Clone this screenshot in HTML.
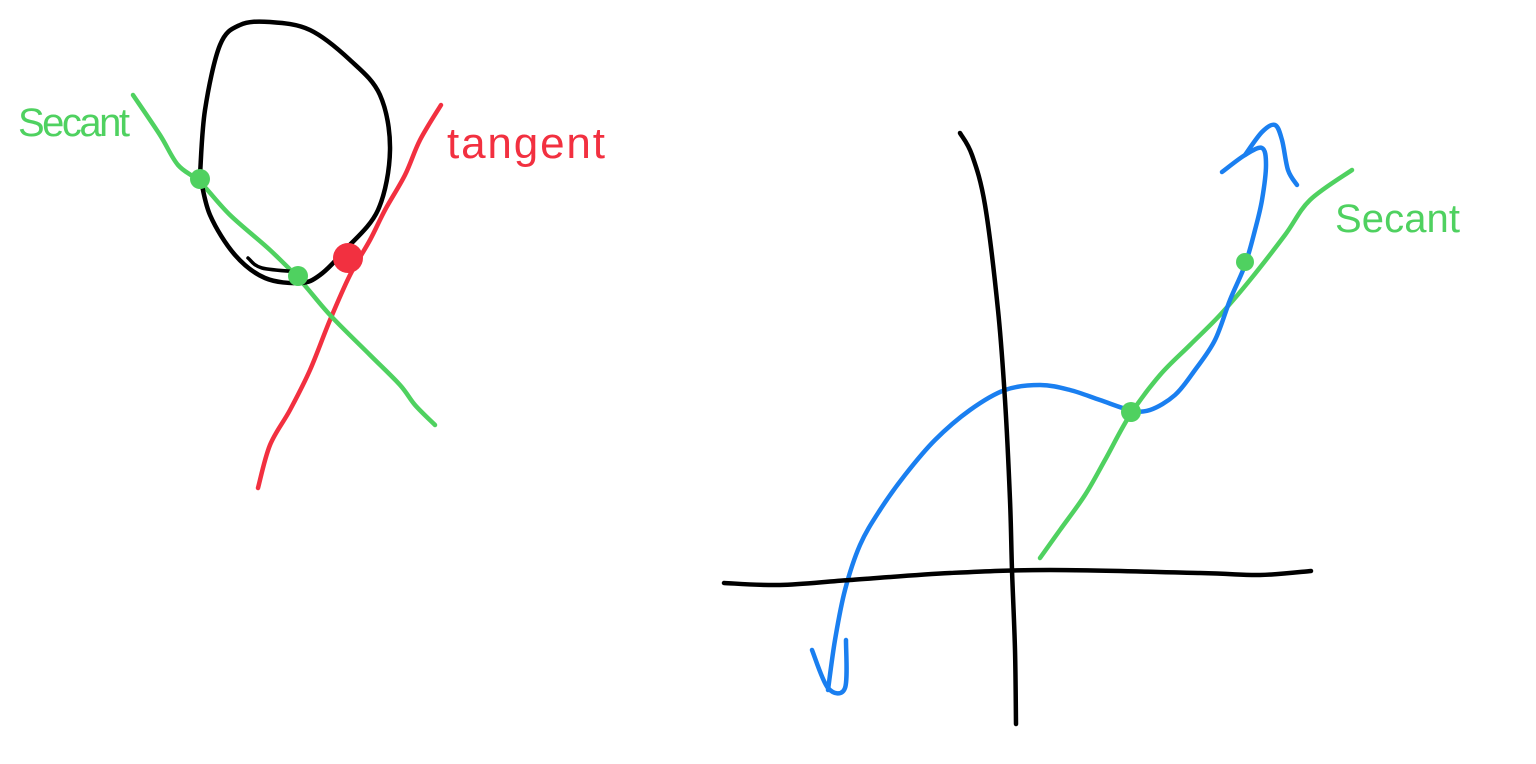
<!DOCTYPE html>
<html><head><meta charset="utf-8"><style>
html,body{margin:0;padding:0;background:#fff;}
svg{display:block;}
text{font-family:"Liberation Sans",sans-serif;}
</style></head><body>
<svg id="s" width="1536" height="764" viewBox="0 0 1536 764">
<text x="18" y="136" font-size="40" fill="#4fd160" textLength="112" lengthAdjust="spacing">Secant</text>
<text x="447" y="158" font-size="44" fill="#f23040" textLength="158" lengthAdjust="spacing">tangent</text>
<text x="1335" y="232" font-size="40" fill="#4fd160" textLength="125" lengthAdjust="spacing">Secant</text>
</svg>
<script>
const circlePts=[[200,175],[205,110],[220,45],[240,25],[270,22],[310,30],[350,60],[380,95],[390,150],[378,210],[345,250],[320,275],[300,283],[265,278],[235,255],[210,215],[200,175]];
const circleExtra=[[248,258],[262,268],[300,272]];
const secantLeft=[[133,95],[160,135],[178,165],[200,182],[230,215],[270,250],[300,280],[330,315],[370,355],[400,385],[415,405],[435,425]];
const tangentPts=[[441,105],[420,140],[405,175],[385,210],[370,240],[350,275],[330,320],[310,370],[290,410],[270,445],[258,488]];
const yAxis=[[960,133],[972,155],[985,205],[998,310],[1005,400],[1010,500],[1012,570],[1015,650],[1016,724]];
const xAxis=[[724,583],[780,585],[850,580],[950,573],[1050,570],[1200,573],[1260,575],[1311,571]];
const blueCurve=[[1222,172],[1245,155],[1262,148],[1266,165],[1262,200],[1255,230],[1245,265],[1230,300],[1215,340],[1195,370],[1175,395],[1150,410],[1130,410],[1100,400],[1070,390],[1040,385],[1005,390],[970,410],[935,440],[905,475],[880,510],[860,545],[845,590],[835,640],[828,690]];
const arrowBottom=[[812,650],[828,688],[845,688],[846,640]];
const arrowTop=[[1245,155],[1262,132],[1275,125],[1282,140],[1288,170],[1297,185]];
const secantRight=[[1040,558],[1060,530],[1085,495],[1105,460],[1130,415],[1160,375],[1190,345],[1220,315],[1250,280],[1285,235],[1310,200],[1352,170]];
const dots=[[200,179,10,'#4fd160','dot-left-1'],[298,276,10,'#4fd160','dot-left-2'],[348,258,15,'#f23040','tangent-point'],[1131,412,10,'#4fd160','dot-right-1'],[1245,262,9,'#4fd160','dot-right-2']];
const svg=document.getElementById('s');
const NS='http://www.w3.org/2000/svg';
function smooth(p){let d='M'+p[0][0]+','+p[0][1];for(let i=0;i<p.length-1;i++){const a=p[Math.max(i-1,0)],b=p[i],c=p[i+1],e=p[Math.min(i+2,p.length-1)];const c1=[b[0]+(c[0]-a[0])/6,b[1]+(c[1]-a[1])/6],c2=[c[0]-(e[0]-b[0])/6,c[1]-(e[1]-b[1])/6];d+=' C'+c1+' '+c2+' '+c;}return d;}
function line(p,col,w,name){const el=document.createElementNS(NS,'path');el.setAttribute('d',smooth(p));el.setAttribute('fill','none');el.setAttribute('stroke',col);el.setAttribute('stroke-width',w);el.setAttribute('stroke-linecap','round');el.setAttribute('stroke-linejoin','round');


svg.insertBefore(el,svg.firstChild);}
line(circlePts,'#000',4.5,'circle');
line(circleExtra,'#000',3.5,'circle-stroke');
line(secantLeft,'#4fd160',4.5,'secant-line-left');
line(tangentPts,'#f23040',4.5,'tangent-line');
line(yAxis,'#000',4.5,'y-axis');
line(xAxis,'#000',4.5,'x-axis');
line(blueCurve,'#1a7ff0',4.5,'function-curve');
line(arrowBottom,'#1a7ff0',4.5,'curve-arrow-bottom');
line(arrowTop,'#1a7ff0',4.5,'curve-arrow-top');
line(secantRight,'#4fd160',4.5,'secant-line-right');
dots.forEach(d=>{const c=document.createElementNS(NS,'circle');c.setAttribute('cx',d[0]);c.setAttribute('cy',d[1]);c.setAttribute('r',d[2]);c.setAttribute('fill',d[3]);


svg.appendChild(c);});
</script>
</body></html>
